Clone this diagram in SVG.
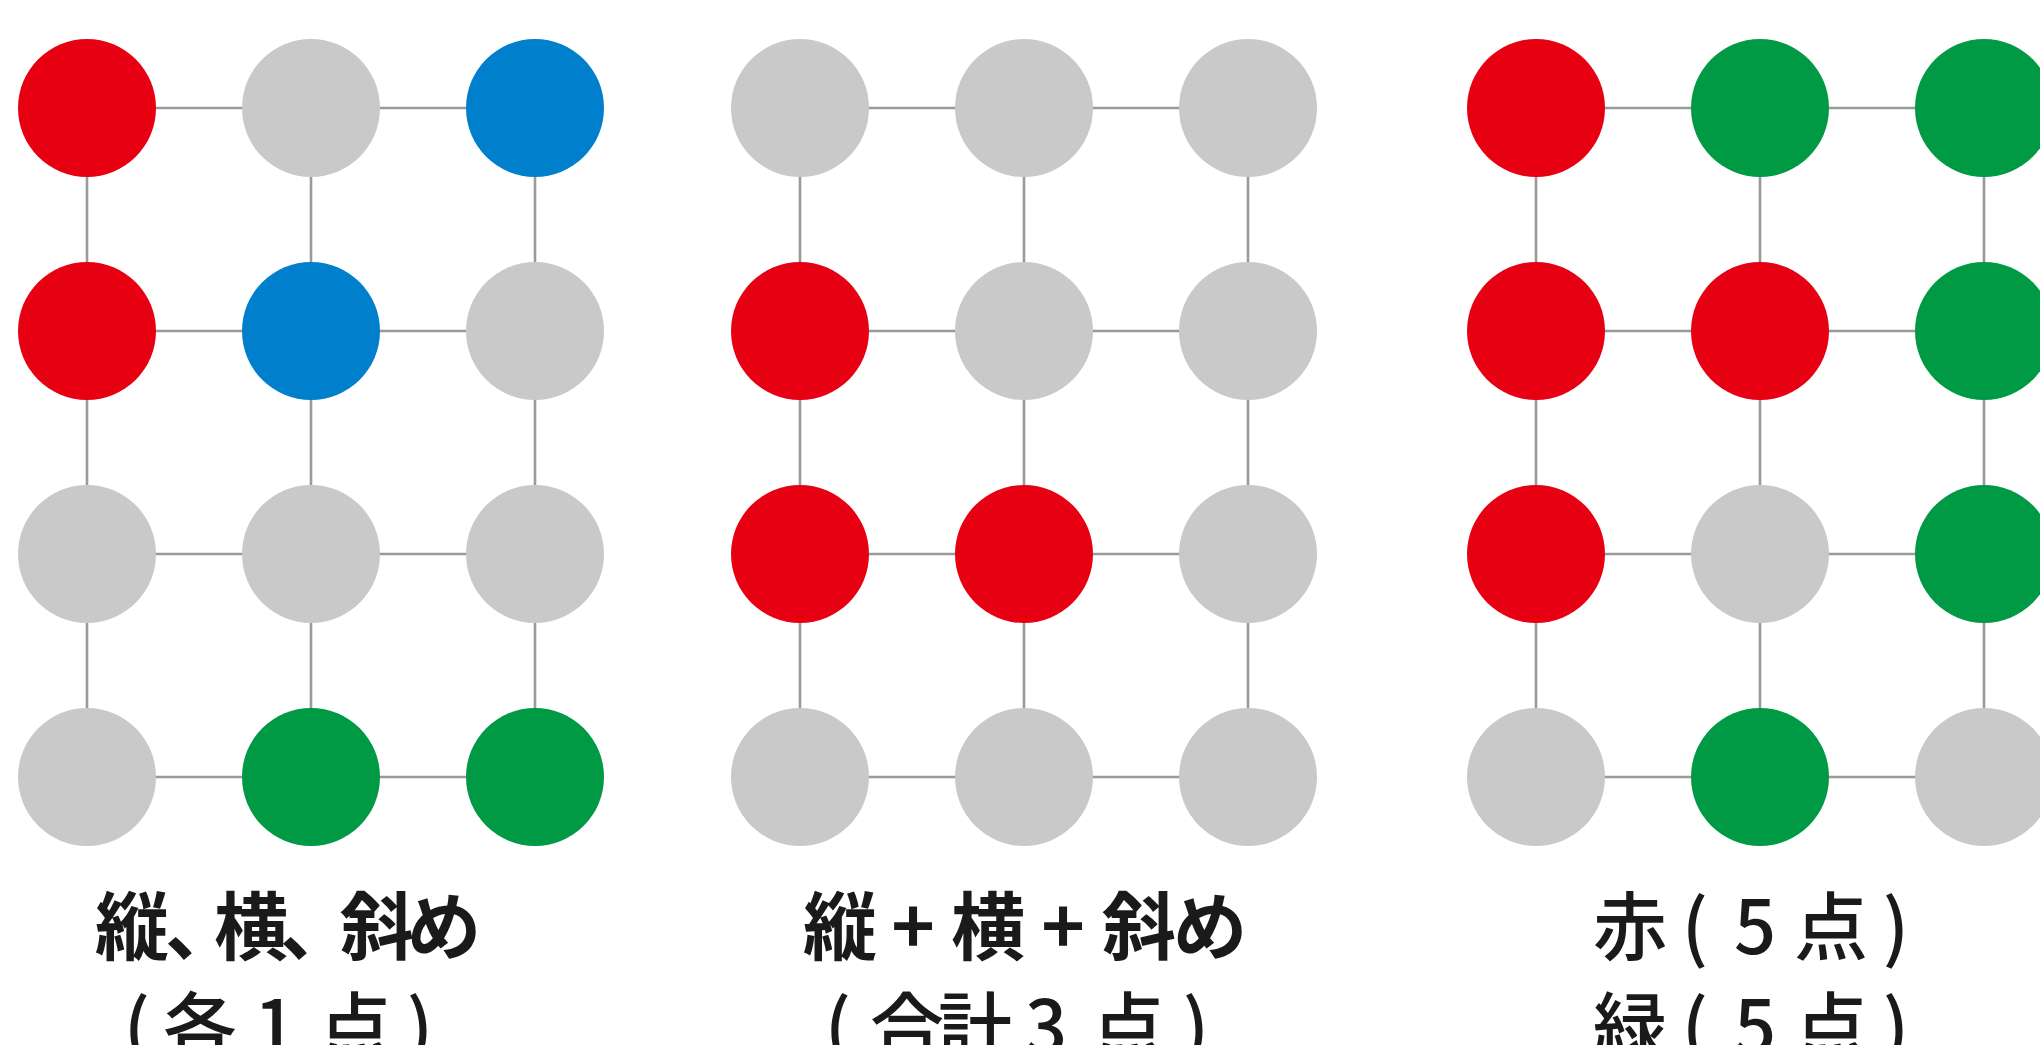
<svg xmlns="http://www.w3.org/2000/svg" width="2040" height="1045" viewBox="0 0 2040 1045">
<style>
.ln{stroke:#9a9a9a;stroke-width:2.6;fill:none}
.g{fill:#c9c9c9}.r{fill:#e60012}.b{fill:#0080cc}.gr{fill:#009a44}
.t{font-family:"Noto Sans CJK JP","Noto Sans",sans-serif;font-size:74px;fill:#1a1a1a;text-anchor:middle}
.bd{font-weight:700}.md{font-weight:500}
</style>
<rect width="2040" height="1045" fill="#ffffff"/>
<g id="connectors">
<path class="ln" d="M87 108H535M87 331H535M87 554H535M87 777H535M87 108V777M311 108V777M535 108V777"/>
<path class="ln" d="M800 108H1248M800 331H1248M800 554H1248M800 777H1248M800 108V777M1024 108V777M1248 108V777"/>
<path class="ln" d="M1536 108H1984M1536 331H1984M1536 554H1984M1536 777H1984M1536 108V777M1760 108V777M1984 108V777"/>
</g>
<g id="grid1">
<circle id="a11" class="r" cx="87" cy="108" r="69"/>
<circle id="a12" class="g" cx="311" cy="108" r="69"/>
<circle id="a13" class="b" cx="535" cy="108" r="69"/>
<circle id="a21" class="r" cx="87" cy="331" r="69"/>
<circle id="a22" class="b" cx="311" cy="331" r="69"/>
<circle id="a23" class="g" cx="535" cy="331" r="69"/>
<circle id="a31" class="g" cx="87" cy="554" r="69"/>
<circle id="a32" class="g" cx="311" cy="554" r="69"/>
<circle id="a33" class="g" cx="535" cy="554" r="69"/>
<circle id="a41" class="g" cx="87" cy="777" r="69"/>
<circle id="a42" class="gr" cx="311" cy="777" r="69"/>
<circle id="a43" class="gr" cx="535" cy="777" r="69"/>
</g>
<g id="grid2">
<circle id="b11" class="g" cx="800" cy="108" r="69"/>
<circle id="b12" class="g" cx="1024" cy="108" r="69"/>
<circle id="b13" class="g" cx="1248" cy="108" r="69"/>
<circle id="b21" class="r" cx="800" cy="331" r="69"/>
<circle id="b22" class="g" cx="1024" cy="331" r="69"/>
<circle id="b23" class="g" cx="1248" cy="331" r="69"/>
<circle id="b31" class="r" cx="800" cy="554" r="69"/>
<circle id="b32" class="r" cx="1024" cy="554" r="69"/>
<circle id="b33" class="g" cx="1248" cy="554" r="69"/>
<circle id="b41" class="g" cx="800" cy="777" r="69"/>
<circle id="b42" class="g" cx="1024" cy="777" r="69"/>
<circle id="b43" class="g" cx="1248" cy="777" r="69"/>
</g>
<g id="grid3">
<circle id="c11" class="r" cx="1536" cy="108" r="69"/>
<circle id="c12" class="gr" cx="1760" cy="108" r="69"/>
<circle id="c13" class="gr" cx="1984" cy="108" r="69"/>
<circle id="c21" class="r" cx="1536" cy="331" r="69"/>
<circle id="c22" class="r" cx="1760" cy="331" r="69"/>
<circle id="c23" class="gr" cx="1984" cy="331" r="69"/>
<circle id="c31" class="r" cx="1536" cy="554" r="69"/>
<circle id="c32" class="g" cx="1760" cy="554" r="69"/>
<circle id="c33" class="gr" cx="1984" cy="554" r="69"/>
<circle id="c41" class="g" cx="1536" cy="777" r="69"/>
<circle id="c42" class="gr" cx="1760" cy="777" r="69"/>
<circle id="c43" class="g" cx="1984" cy="777" r="69"/>
</g>
<g id="label1">
<text class="t bd" y="954"><tspan x="132">縦</tspan><tspan x="202">、</tspan><tspan x="251">横</tspan><tspan x="317">、</tspan><tspan x="377">斜</tspan><tspan x="444">め</tspan></text>
<text class="t md" y="1054"><tspan x="137">(</tspan><tspan x="200">各</tspan><tspan x="275">1</tspan><tspan x="355">点</tspan><tspan x="420">)</tspan></text>
</g>
<g id="label2">
<text class="t bd" y="954"><tspan x="840">縦</tspan><tspan x="913">+</tspan><tspan x="988">横</tspan><tspan x="1063">+</tspan><tspan x="1139">斜</tspan><tspan x="1210">め</tspan></text>
<text class="t md" y="1054"><tspan x="838">(</tspan><tspan x="907">合</tspan><tspan x="975">計</tspan><tspan x="1046">3</tspan><tspan x="1128">点</tspan><tspan x="1196">)</tspan></text>
</g>
<g id="label3">
<text class="t md" y="954"><tspan x="1630">赤</tspan><tspan x="1695">(</tspan><tspan x="1755">5</tspan><tspan x="1831">点</tspan><tspan x="1896">)</tspan></text>
<text class="t md" y="1054"><tspan x="1630">緑</tspan><tspan x="1695">(</tspan><tspan x="1755">5</tspan><tspan x="1831">点</tspan><tspan x="1896">)</tspan></text>
</g>
</svg>
